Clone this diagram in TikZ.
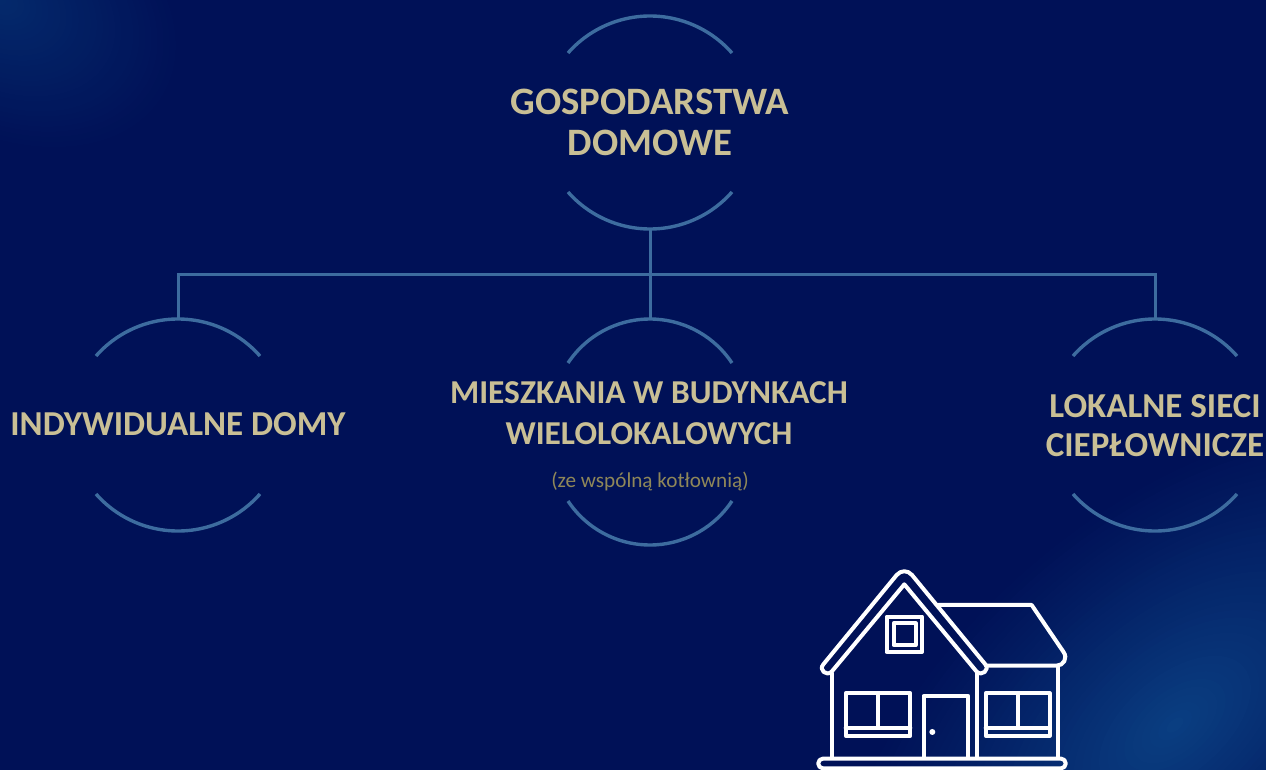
\documentclass[tikz,border=0pt]{standalone}
\usepackage{fontspec}
\setmainfont{Carlito}
\definecolor{bgnavy}{HTML}{001157}
\definecolor{glowblue}{HTML}{0A3F82}
\definecolor{cornerblue}{HTML}{042A6C}
\definecolor{ringblue}{HTML}{3D6C9F}
\definecolor{titlegold}{HTML}{C9BF95}
\definecolor{subgold}{HTML}{8F8759}
\tikzset{
  ring/.style={draw=ringblue, line width=3.4pt},
  link/.style={draw=ringblue, line width=3pt},
  heading/.style={text=titlegold, font=\fontsize{#1}{41}\selectfont\bfseries, align=center, inner sep=0pt},
  heading/.default=35,
  subnote/.style={text=subgold, font=\fontsize{21.2}{24}\selectfont, align=center, inner sep=0pt},
  houseline/.style={draw=white, line width=4pt, line join=round, line cap=round},
}
% #1 centre x, #2 top y, #3 y of the lower arc's ends, #4 name, #5 sagitta
\newcommand{\ringarcs}[5]{%
  \pgfmathsetmacro{\ringR}{(6724+#5*#5)/(2*#5)}
  \pgfmathsetmacro{\ringA}{asin(82/\ringR)}
  \draw[ring] (#1-82,#2+#5) arc[start angle=270-\ringA, end angle=270+\ringA, radius=\ringR];
  \draw[ring] (#1-82,#3) arc[start angle=90+\ringA, end angle=90-\ringA, radius=\ringR];
  \coordinate (#4top) at (#1,#2);
}
\begin{document}
\begin{tikzpicture}[x=1pt,y=-1pt]
\useasboundingbox (0,0) rectangle (1266,770);
\fill[bgnavy] (0,0) rectangle (1266,770);
\begin{scope}
  \clip (0,0) rectangle (1266,770);
  \foreach \k in {40,39,...,1}{
    \pgfmathsetmacro{\mixpct}{100*(1-\k/40)^1.1}
    \fill[glowblue!\mixpct!bgnavy, rotate around={40:(1175,725)}] (1175,725) ellipse [x radius=10*\k, y radius=5.5*\k];
  }
  \foreach \k in {30,29,...,1}{
    \pgfmathsetmacro{\mixpct}{100*(1-\k/30)}
    \fill[cornerblue!\mixpct!bgnavy, rotate around={-30:(0,0)}] (0,0) ellipse [x radius=6.5*\k, y radius=4.5*\k];
  }
\end{scope}

% rings
\ringarcs{650}{16}{192}{rootring}{37}
\ringarcs{178}{319}{494}{leftring}{37}
\ringarcs{650}{319}{501}{midring}{44}
\ringarcs{1155}{319}{494}{rightring}{37}

% connectors
\coordinate (rootbottom) at (650,230);
\coordinate (busmid) at (650,274);
\coordinate (busleft) at (178,274);
\coordinate (busright) at (1155,274);
\draw[link] (rootbottom) -- (busmid);
\draw[link, line join=miter] (leftringtop) -- (busleft) -- (busright) -- (rightringtop);
\draw[link] (busmid) -- (midringtop);

% labels
\node[heading=38.8] (root) at (650,122) {GOSPODARSTWA\\DOMOWE};
\node[heading] (left) at (178,424) {INDYWIDUALNE DOMY};
\node[heading=33.4] (mid) at (649,413) {MIESZKANIA W BUDYNKACH\\WIELOLOKALOWYCH};
\node[subnote] (midnote) at (650,481) {(ze wspólną kotłownią)};
\node[heading] (right) at (1155,425.5) {LOKALNE SIECI\\[-1.5pt]CIEPŁOWNICZE};

% house
\begin{scope}[shift={(800,555)}, x=.3333pt, y=-.3333pt]
  \clip (0,0) rectangle (870,645);
  \draw[houseline] (313,88) -- (95,350) .. controls (80,365) and (55,345) .. (70,328) -- (290,60) .. controls (303,45) and (323,45) .. (336,60) -- (556,328) .. controls (570,345) and (545,365) .. (530,350) -- cycle;
  \draw[houseline] (415,150) -- (695,150) -- (790,290) .. controls (805,310) and (790,332) .. (770,332) -- (558,332);
  \draw[houseline] (95,355) -- (95,608);
  \draw[houseline] (532,355) -- (532,608);
  \draw[houseline] (773,335) -- (773,608);
  \draw[houseline, rounded corners=4.5pt] (55,611) rectangle (797,640);
  \draw[houseline] (260,185) rectangle (366,291);
  \draw[houseline] (281,205) rectangle (347,270);
  \draw[houseline] (137,415) rectangle (331,542);
  \draw[houseline] (137,518) -- (331,518);
  \draw[houseline] (233,415) -- (233,518);
  \draw[houseline] (557,415) rectangle (749,542);
  \draw[houseline] (557,518) -- (749,518);
  \draw[houseline] (653,415) -- (653,518);
  \draw[houseline] (371,608) -- (371,423) -- (505,423) -- (505,608);
  \fill[white] (397,531) circle [radius=3pt];
\end{scope}
\end{tikzpicture}
\end{document}
